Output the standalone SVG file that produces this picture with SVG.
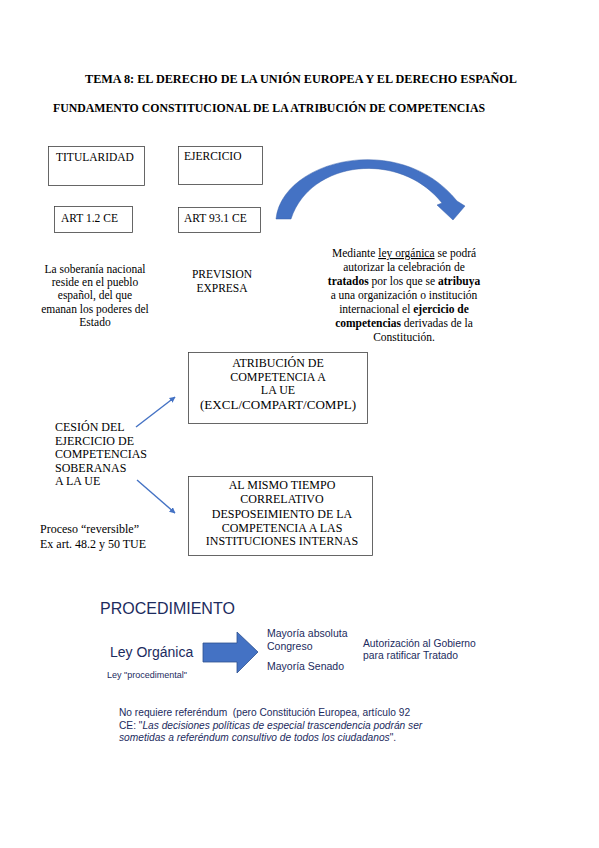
<svg xmlns="http://www.w3.org/2000/svg" width="599" height="848" viewBox="0 0 599 848">
<style>
.t{font-family:"Liberation Serif","Times New Roman",serif;fill:#000}
.b{font-weight:bold}
.box{fill:#fff;stroke:#000;stroke-width:0.8;stroke-opacity:0.75}
.a{font-family:"Liberation Sans",Arial,sans-serif;fill:#1c2b5e}
.conn{stroke:#4472c4;stroke-width:1.4;fill:none;marker-end:url(#ah)}
</style>
<defs>
<marker id="ah" viewBox="0 0 10 10" refX="9" refY="5" markerWidth="6" markerHeight="6" orient="auto" markerUnits="userSpaceOnUse">
<path d="M0,0 L10,5 L0,10 Z" fill="#4472c4"/>
</marker>
</defs>
<rect width="599" height="848" fill="#fff"/>
<g id="titles">
<text class="t b" x="301" y="83" font-size="12" text-anchor="middle" textLength="432" lengthAdjust="spacingAndGlyphs">TEMA 8: EL DERECHO DE LA UNIÓN EUROPEA Y EL DERECHO ESPAÑOL</text>
<text class="t b" x="53" y="112" font-size="12" textLength="432" lengthAdjust="spacingAndGlyphs">FUNDAMENTO CONSTITUCIONAL DE LA ATRIBUCIÓN DE COMPETENCIAS</text>
</g>
<g id="titularidad">
<rect class="box" x="48.5" y="146.5" width="96" height="39"/>
<text class="t" x="56" y="161" font-size="11.5">TITULARIDAD</text>
</g>
<g id="ejercicio">
<rect class="box" x="178.5" y="146.5" width="84" height="38"/>
<text class="t" x="184" y="160" font-size="11.5">EJERCICIO</text>
</g>
<g id="art12">
<rect class="box" x="54.5" y="206.5" width="78" height="26"/>
<text class="t" x="61" y="222" font-size="11.5">ART 1.2 CE</text>
</g>
<g id="art931">
<rect class="box" x="178.5" y="207.5" width="82" height="25"/>
<text class="t" x="184" y="222" font-size="11.5">ART 93.1 CE</text>
</g>
<g id="soberania" class="t" font-size="11.5" text-anchor="middle">
<text x="95" y="273">La soberanía nacional</text>
<text x="95" y="286">reside en el pueblo</text>
<text x="95" y="299">español, del que</text>
<text x="95" y="313">emanan los poderes del</text>
<text x="95" y="326">Estado</text>
</g>
<g id="prevision" class="t" font-size="11.5" text-anchor="middle">
<text x="222" y="278">PREVISION</text>
<text x="222" y="292">EXPRESA</text>
</g>
<g id="mediante" class="t" font-size="11.5" text-anchor="middle">
<text x="404" y="257">Mediante <tspan text-decoration="underline">ley orgánica</tspan> se podrá</text>
<text x="404" y="271">autorizar la celebración de</text>
<text x="404" y="285"><tspan class="b">tratados</tspan> por los que se <tspan class="b">atribuya</tspan></text>
<text x="404" y="299">a una organización o institución</text>
<text x="404" y="313">internacional el <tspan class="b">ejercicio de</tspan></text>
<text x="404" y="327"><tspan class="b">competencias</tspan> derivadas de la</text>
<text x="404" y="341">Constitución.</text>
</g>
<g id="curved-arrow">
<path d="M276,219 C282,160 400,130 457,201 L465,206 L453,220 L437,205 L442,203 C400,150 310,160 291,219 Z" fill="#4472c4" stroke="#3a63ad" stroke-width="0.5"/>
</g>
<g id="atribucion">
<rect class="box" x="188.5" y="352.5" width="179" height="71"/>
<g class="t" font-size="12" text-anchor="middle">
<text x="278" y="367">ATRIBUCIÓN DE</text>
<text x="278" y="381">COMPETENCIA A</text>
<text x="278" y="394">LA UE</text>
<text x="278" y="409" textLength="156" lengthAdjust="spacingAndGlyphs">(EXCL/COMPART/COMPL)</text>
</g>
</g>
<g id="cesion" class="t" font-size="12">
<text x="55" y="431">CESIÓN DEL</text>
<text x="55" y="445">EJERCICIO DE</text>
<text x="55" y="458">COMPETENCIAS</text>
<text x="55" y="472">SOBERANAS</text>
<text x="55" y="485">A LA UE</text>
</g>
<g id="desposeimiento">
<rect class="box" x="188.5" y="476.5" width="184" height="79"/>
<g class="t" font-size="12" text-anchor="middle">
<text x="282" y="489">AL MISMO TIEMPO</text>
<text x="282" y="503">CORRELATIVO</text>
<text x="282" y="518">DESPOSEIMIENTO DE LA</text>
<text x="282" y="532">COMPETENCIA A LAS</text>
<text x="282" y="545">INSTITUCIONES INTERNAS</text>
</g>
</g>
<g id="proceso" class="t" font-size="12">
<text x="40" y="533">Proceso “reversible”</text>
<text x="40" y="548">Ex art. 48.2 y 50 TUE</text>
</g>
<g id="connectors">
<line class="conn" x1="136" y1="427" x2="175" y2="397"/>
<line class="conn" x1="137" y1="480" x2="175" y2="513"/>
</g>
<g id="procedimiento">
<text class="a" x="100" y="614" font-size="16" fill="#1f3a70">PROCEDIMIENTO</text>
</g>
<g id="ley-organica">
<text class="a" x="110" y="657" font-size="14">Ley Orgánica</text>
<text class="a" x="107" y="678" font-size="9">Ley "procedimental"</text>
</g>
<g id="block-arrow">
<path d="M203,643 L237,643 L237,632 L258,652 L237,673 L237,662 L203,662 Z" fill="#4472c4" stroke="#2f528f" stroke-width="0.8"/>
</g>
<g id="mayorias" class="a" font-size="10.5">
<text x="267" y="637">Mayoría absoluta</text>
<text x="267" y="650">Congreso</text>
<text x="267" y="670">Mayoría Senado</text>
</g>
<g id="autorizacion" class="a" font-size="10.3">
<text x="363" y="647">Autorización al Gobierno</text>
<text x="363" y="659">para ratificar Tratado</text>
</g>
<g id="referendum" class="a" font-size="10.2">
<text x="119" y="716">No requiere referéndum&#160; (pero Constitución Europea, artículo 92</text>
<text x="119" y="729">CE: "<tspan font-style="italic">Las decisiones políticas de especial trascendencia podrán ser</tspan></text>
<text x="119" y="741"><tspan font-style="italic">sometidas a referéndum consultivo de todos los ciudadanos</tspan>".</text>
</g>
</svg>
